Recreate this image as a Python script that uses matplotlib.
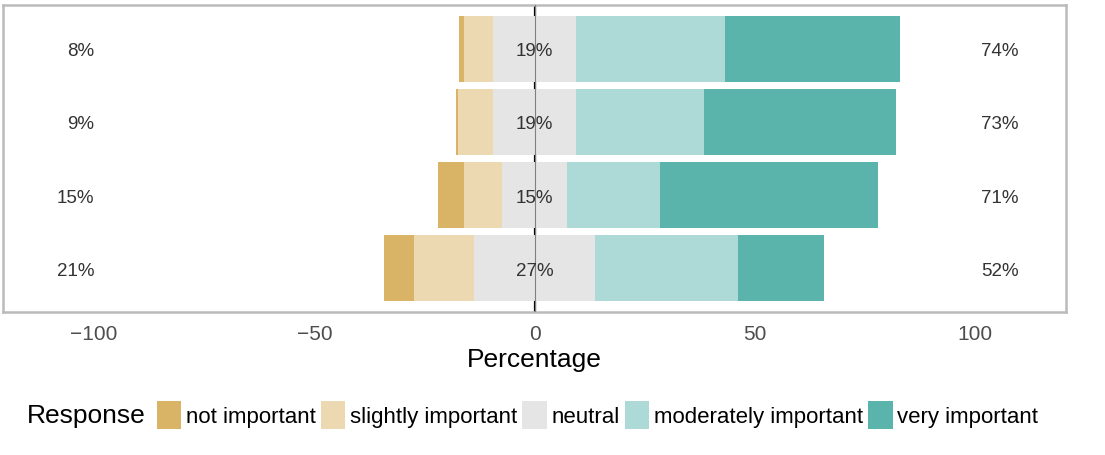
import matplotlib.pyplot as plt
import numpy as np
from matplotlib.patches import Patch

plt.rcParams['font.family'] = ['Liberation Sans', 'DejaVu Sans']

# rows, top to bottom
items = ['Item 1', 'Item 2', 'Item 3', 'Item 4']
responses = ['not important', 'slightly important', 'neutral',
             'moderately important', 'very important']
not_imp = [1.0, 0.5, 6.0, 6.8]
slightly = [6.7, 8.0, 8.6, 13.7]
neutral = [18.7, 18.7, 14.8, 27.4]
moderately = [33.9, 29.1, 21.2, 32.5]
very = [39.7, 43.6, 49.4, 19.6]
low_labels = ['8%', '9%', '15%', '21%']
mid_labels = ['19%', '19%', '15%', '27%']
high_labels = ['74%', '73%', '71%', '52%']
colors = ['#d9b366', '#ecd9b2', '#e5e5e5', '#addad6', '#5ab4ac']

fig = plt.figure(figsize=(11.05, 4.56), dpi=100)
ax = fig.add_axes([3 / 1105, 1 - 313 / 456, 1063 / 1105, 307 / 456])

y = np.arange(len(items))
half = np.array(neutral) / 2
sl = np.array(slightly)
ni = np.array(not_imp)
mo = np.array(moderately)
ve = np.array(very)

h = 0.9
ax.barh(y, ni, left=-half - sl - ni, height=h, color=colors[0], zorder=2)
ax.barh(y, sl, left=-half - sl, height=h, color=colors[1], zorder=2)
ax.barh(y, neutral, left=-half, height=h, color=colors[2], zorder=2)
ax.barh(y, mo, left=half, height=h, color=colors[3], zorder=2)
ax.barh(y, ve, left=half + mo, height=h, color=colors[4], zorder=2)

# center line: black in the gaps, grey through the bars
ax.axvline(0, color='black', lw=1.6, zorder=1)
ax.axvline(0, color='#808080', lw=0.8, zorder=3)

for i in range(len(items)):
    ax.text(-100, y[i], low_labels[i], ha='right', va='center_baseline',
            fontsize=13.5, color='#333333', zorder=4)
    ax.text(0, y[i], mid_labels[i], ha='center', va='center_baseline',
            fontsize=13.5, color='#333333', zorder=4)
    ax.text(101.5, y[i], high_labels[i], ha='left', va='center_baseline',
            fontsize=13.5, color='#333333', zorder=4)

ax.set_xlim(-120.7, 120.7)
ax.set_ylim(len(items) - 0.4, -0.6)
ax.set_yticks([])
ax.set_xticks([-100, -50, 0, 50, 100])
ax.set_xticklabels(['\u2212100', '\u221250', '0', '50', '100'])
ax.tick_params(axis='x', length=0, pad=9, labelsize=15, labelcolor='#4d4d4d')
for s in ax.spines.values():
    s.set_color('#bbbbbb')
    s.set_linewidth(1.8)

fig.text(534 / 1105, 1 - 360 / 456, 'Percentage', ha='center', va='center',
         fontsize=19)

handles = [Patch(facecolor=c, edgecolor='none') for c in colors]
fig.legend(handles, responses, ncol=5, loc='center left',
           bbox_to_anchor=(156.5 / 1105, 1 - 416 / 456), frameon=False,
           fontsize=16, handlelength=1.12, handleheight=1.5,
           handletextpad=0.2, columnspacing=0.22, borderpad=0,
           borderaxespad=0)
fig.text(26.8 / 1105, 1 - 416 / 456, 'Response', ha='left', va='center',
         fontsize=19)

fig.savefig('out.png', dpi=100)
